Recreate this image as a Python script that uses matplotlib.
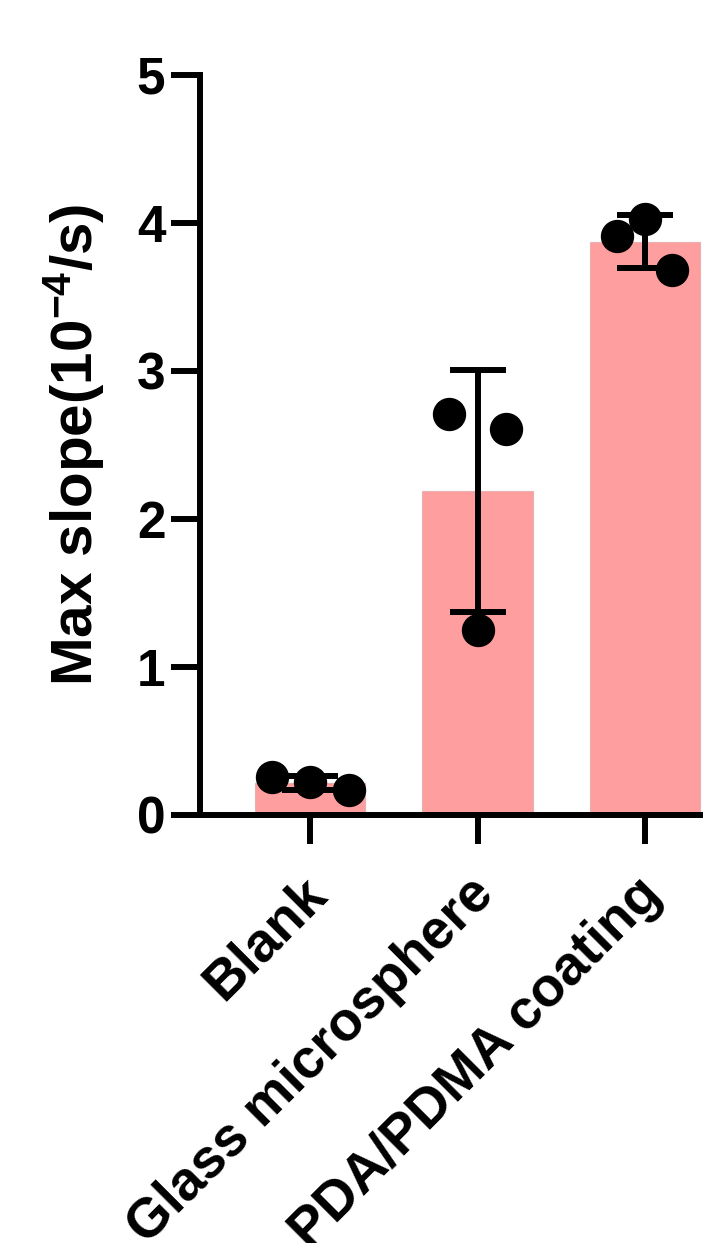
import numpy as np
import matplotlib.pyplot as plt
from matplotlib.transforms import ScaledTranslation

plt.rcParams['font.family'] = ['Liberation Sans', 'DejaVu Sans']
plt.rcParams['font.weight'] = 'bold'
plt.rcParams['mathtext.fontset'] = 'custom'
plt.rcParams['mathtext.rm'] = 'Liberation Sans:bold'
plt.rcParams['mathtext.default'] = 'regular'

# data
groups = ['Blank', 'Glass microsphere', 'PDA/PDMA coating']
blank = [0.26, 0.22, 0.17]
glass = [2.71, 2.61, 1.25]
pda = [3.91, 4.03, 3.68]
# horizontal scatter of the dots inside each bar
offsets = [[-0.23, 0.0, 0.23], [-0.17, 0.17, 0.0], [-0.17, 0.0, 0.16]]

values = [blank, glass, pda]
means = [np.mean(v) for v in values]
sds = [np.std(v, ddof=1) for v in values]
x = np.arange(len(groups))

fig = plt.figure(figsize=(7.03, 12.43), dpi=100)
ax = fig.add_axes([200 / 703, (1243 - 815) / 1243, 503 / 703, 740 / 1243])

lw = 4.3
ax.bar(x, means, width=0.66, color='#ff9e9e', edgecolor='#e8b0b0', linewidth=0.8, zorder=1)
ax.errorbar(x, means, yerr=sds, fmt='none', ecolor='black', elinewidth=lw,
            capsize=20, capthick=lw, zorder=2)
for i in range(len(groups)):
    ax.plot(x[i] + np.array(offsets[i]), values[i], 'o', color='black',
            markersize=23, zorder=3, clip_on=False)

ax.set_xlim(-0.657, 2.346)
ax.set_ylim(0, 5)
ax.set_yticks([0, 1, 2, 3, 4, 5])
ax.set_xticks(x)
ax.set_xticklabels(groups, rotation=45, ha='right', rotation_mode='anchor')

ax.spines['top'].set_visible(False)
ax.spines['right'].set_visible(False)
ax.spines['left'].set_linewidth(lw)
ax.spines['bottom'].set_linewidth(lw)
ax.tick_params(axis='both', width=lw, length=21, labelsize=37, pad=4)
ax.tick_params(axis='x', pad=17, labelsize=39.5)

# nudge rotated labels a little to the left
shift = ScaledTranslation(-10 / 100, 0, fig.dpi_scale_trans)
for lab in ax.get_xticklabels():
    lab.set_transform(lab.get_transform() + shift)

ax.set_ylabel('Max slope(10$^{-4}$/s)', fontsize=42, fontweight='bold', labelpad=22)

fig.savefig('out.png', dpi=100)
